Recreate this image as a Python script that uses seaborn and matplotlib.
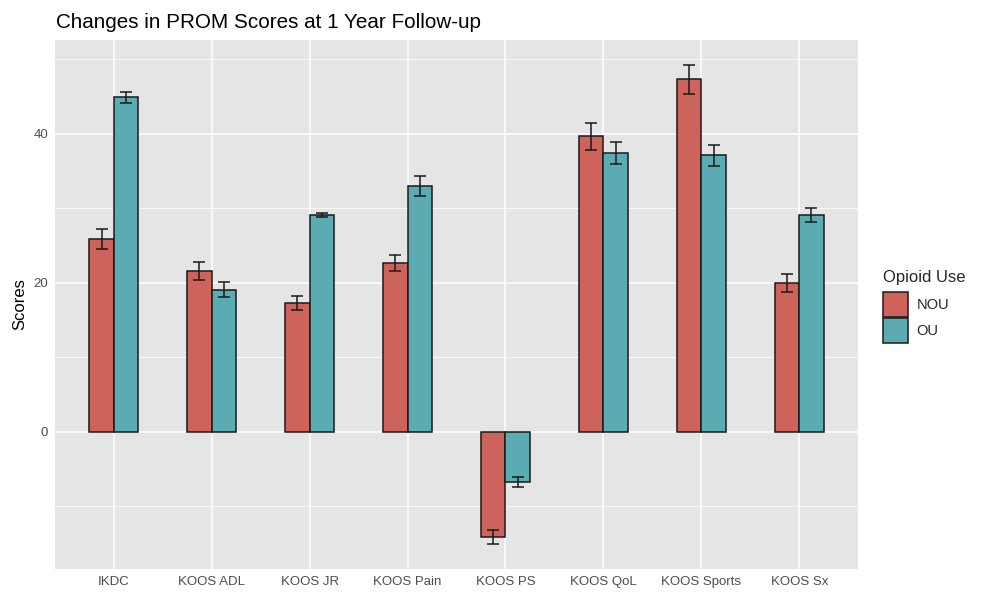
import matplotlib
matplotlib.use("Agg")
import matplotlib.pyplot as plt
import seaborn as sns
import pandas as pd
import numpy as np
from matplotlib.patches import Patch

# Mean change in each PROM score, with standard errors, by opioid use group
measures = ["IKDC", "KOOS ADL", "KOOS JR", "KOOS Pain", "KOOS PS",
            "KOOS QoL", "KOOS Sports", "KOOS Sx"]
groups = ["NOU", "OU"]
nou_mean = [25.9, 21.6, 17.3, 22.7, -14.1, 39.7, 47.3, 20.0]
nou_se = [1.4, 1.15, 0.95, 1.1, 1.0, 1.8, 1.9, 1.25]
ou_mean = [44.9, 19.1, 29.1, 33.0, -6.75, 37.4, 37.1, 29.1]
ou_se = [0.75, 1.0, 0.25, 1.3, 0.65, 1.45, 1.4, 0.9]

colors = {"NOU": "#CE635C", "OU": "#5AABB2"}

df = pd.DataFrame({
    "measure": measures * 2,
    "group": ["NOU"] * len(measures) + ["OU"] * len(measures),
    "score": nou_mean + ou_mean,
    "se": nou_se + ou_se,
})

sns.set_theme(style="darkgrid")
plt.rcParams["font.family"] = ["Liberation Sans", "DejaVu Sans"]

fig = plt.figure(figsize=(9.81, 5.93), dpi=100)
W, H = 981, 593
ax = fig.add_axes([55 / W, 1 - 569 / H, (858 - 55) / W, (569 - 40) / H])
ax.set_facecolor("#E5E5E5")

sns.barplot(data=df, x="measure", y="score", hue="group",
            order=measures, hue_order=groups, palette=colors,
            width=0.5, errorbar=None, edgecolor="#1a1a1a", linewidth=1.1,
            saturation=1, ax=ax, zorder=3, legend=False)

# error bars at each bar's centre
for container, g in zip(ax.containers, groups):
    sub = df[df["group"] == g].set_index("measure").loc[measures]
    xs = [b.get_x() + b.get_width() / 2 for b in container]
    ax.errorbar(xs, sub["score"].values, yerr=sub["se"].values, fmt="none",
                ecolor="#1a1a1a", elinewidth=1.1, capsize=4, capthick=1.1,
                zorder=4)

# limits mirroring ggplot's default expansion
ax.set_xlim(-0.6, len(measures) - 1 + 0.6)
ax.set_ylim(-18.4, 52.6)

ax.set_yticks([0, 20, 40])
ax.set_yticks([-10, 10, 30, 50], minor=True)
ax.grid(which="major", color="white", linewidth=1.1, zorder=0)
ax.grid(which="minor", axis="y", color="white", linewidth=0.55, zorder=0)
ax.grid(which="minor", axis="x", visible=False)
ax.set_axisbelow(True)
for s in ax.spines.values():
    s.set_visible(False)

ax.tick_params(axis="both", which="major", length=3, width=0.8,
               color="#333333", labelcolor="#4D4D4D", labelsize=9.5, pad=2)
ax.tick_params(axis="both", which="minor", length=0)

ax.set_xlabel("")
ax.set_ylabel("Scores", fontsize=12, color="black", labelpad=4)

fig.text(56 / W, 1 - 22 / H, "Changes in PROM Scores at 1 Year Follow-up",
         fontsize=14.9, color="black", va="center", ha="left")

handles = [Patch(facecolor=colors[g], edgecolor="#1a1a1a", linewidth=1.1,
                 label=g) for g in groups]
leg = fig.legend(handles=handles, title="Opioid Use", loc="upper left",
                 bbox_to_anchor=(883 / W, 1 - 270 / H), frameon=False,
                 fontsize=10.5, title_fontsize=12, handlelength=1.7,
                 handleheight=2.25, handletextpad=0.6, labelspacing=0.1,
                 borderaxespad=0, borderpad=0)
leg._legend_box.align = "left"
leg._legend_box.sep = 5

fig.savefig("out.png", dpi=100)
